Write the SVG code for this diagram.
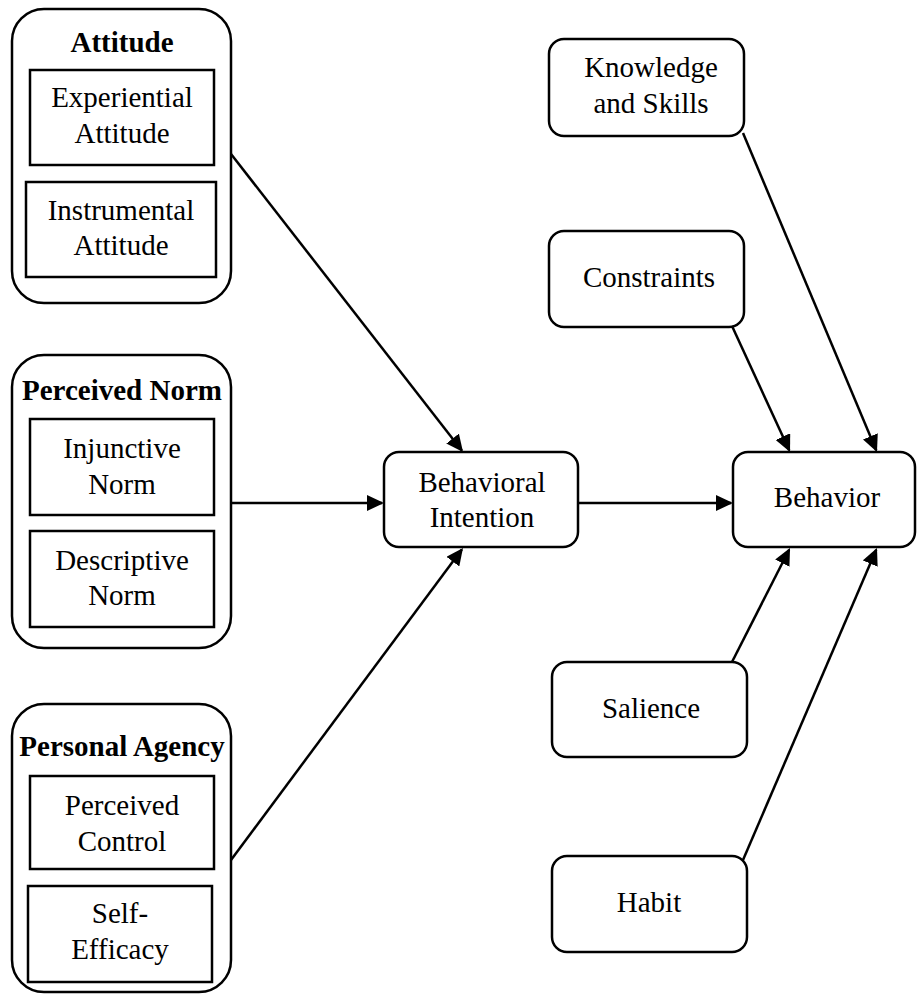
<svg xmlns="http://www.w3.org/2000/svg" width="917" height="997" viewBox="0 0 917 997">
<style>
.box{fill:#fff;stroke:#000;stroke-width:2.5}
.t{font-family:"Liberation Serif","Times New Roman",serif;font-size:29px;fill:#000;text-anchor:middle}
.b{font-weight:bold}
.c{stroke:#000;stroke-width:2.5;fill:none;marker-end:url(#ah)}
</style>
<defs>
<marker id="ah" markerUnits="userSpaceOnUse" markerWidth="18" markerHeight="16" viewBox="0 0 18 16" refX="15" refY="8" orient="auto">
<path d="M0,0 L17,8 L0,16 z" fill="#000"/>
</marker>
</defs>
<rect width="917" height="997" fill="#fff"/>
<g id="attitude">
<rect class="box" x="12" y="9" width="219" height="294" rx="32"/>
<text class="t b" x="122" y="52">Attitude</text>
<rect class="box" x="30" y="70" width="184" height="95"/>
<text class="t" x="122" y="107">Experiential</text>
<text class="t" x="122" y="143">Attitude</text>
<rect class="box" x="26" y="182" width="190" height="95"/>
<text class="t" x="121" y="220">Instrumental</text>
<text class="t" x="121" y="255">Attitude</text>
</g>
<g id="perceived-norm">
<rect class="box" x="12" y="355" width="219" height="293" rx="32"/>
<text class="t b" x="122" y="400">Perceived Norm</text>
<rect class="box" x="30" y="419" width="184" height="96"/>
<text class="t" x="122" y="458">Injunctive</text>
<text class="t" x="122" y="494">Norm</text>
<rect class="box" x="30" y="531" width="184" height="96"/>
<text class="t" x="122" y="570">Descriptive</text>
<text class="t" x="122" y="605">Norm</text>
</g>
<g id="personal-agency">
<rect class="box" x="12" y="704" width="219" height="288" rx="32"/>
<text class="t b" x="122" y="756">Personal Agency</text>
<rect class="box" x="30" y="776" width="184" height="93"/>
<text class="t" x="122" y="815">Perceived</text>
<text class="t" x="122" y="851">Control</text>
<rect class="box" x="28" y="886" width="184" height="96"/>
<text class="t" x="120" y="923">Self-</text>
<text class="t" x="120" y="959">Efficacy</text>
</g>
<g id="behavioral-intention">
<rect class="box" x="384" y="452" width="194" height="95" rx="15"/>
<text class="t" x="482" y="492">Behavioral</text>
<text class="t" x="482" y="527">Intention</text>
</g>
<g id="behavior">
<rect class="box" x="733" y="452" width="182" height="95" rx="15"/>
<text class="t" x="827" y="507">Behavior</text>
</g>
<g id="knowledge">
<rect class="box" x="549" y="39" width="195" height="97" rx="15"/>
<text class="t" x="651" y="77">Knowledge</text>
<text class="t" x="651" y="113">and Skills</text>
</g>
<g id="constraints">
<rect class="box" x="549" y="231" width="195" height="96" rx="15"/>
<text class="t" x="649" y="287">Constraints</text>
</g>
<g id="salience">
<rect class="box" x="552" y="662" width="195" height="95" rx="15"/>
<text class="t" x="651" y="718">Salience</text>
</g>
<g id="habit">
<rect class="box" x="552" y="856" width="195" height="96" rx="15"/>
<text class="t" x="649" y="912">Habit</text>
</g>
<g id="connectors">
<line class="c" x1="231" y1="154" x2="461.8" y2="450.4"/>
<line class="c" x1="231" y1="503" x2="382" y2="503"/>
<line class="c" x1="231" y1="860" x2="461.8" y2="549.6"/>
<line class="c" x1="578" y1="503" x2="731" y2="503"/>
<line class="c" x1="743" y1="133" x2="876.2" y2="450.2"/>
<line class="c" x1="732" y1="326" x2="789.2" y2="450.2"/>
<line class="c" x1="732" y1="662" x2="789.1" y2="549.8"/>
<line class="c" x1="743" y1="860" x2="876.2" y2="549.8"/>
</g>
</svg>
